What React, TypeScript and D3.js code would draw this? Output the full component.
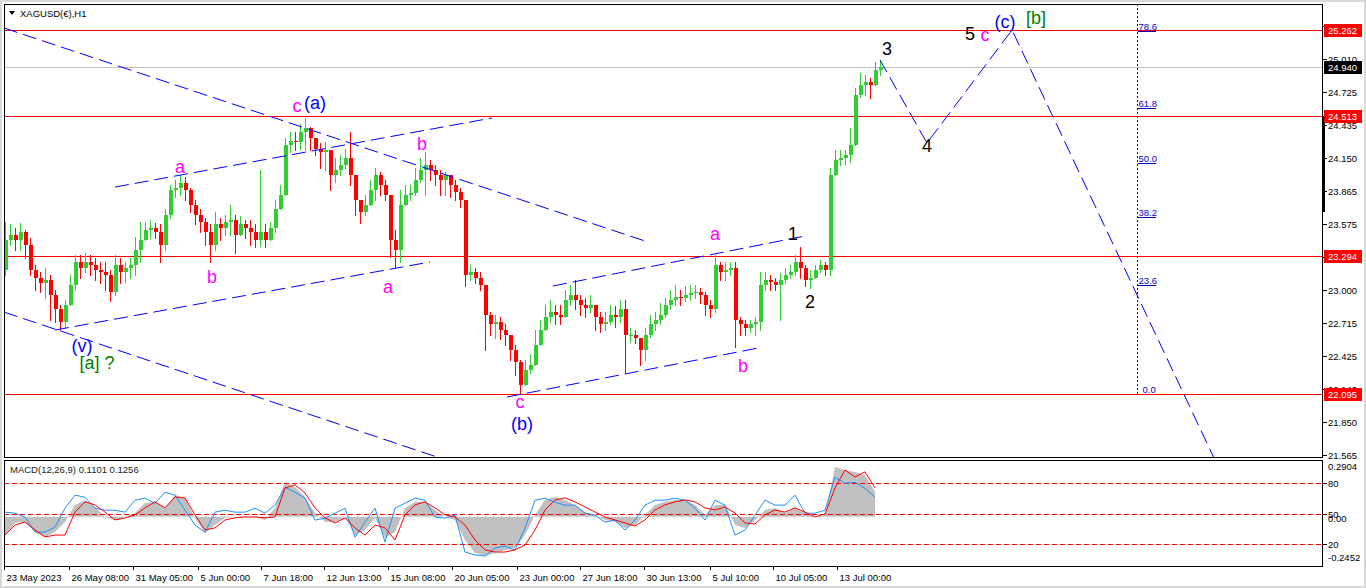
import React from "react";
import * as d3 from "d3";

// ---------------- data ----------------
const symbolTitle = "XAGUSD(€),H1";
const macdTitle = "MACD(12,26,9) 0.1101 0.1256";
const candleBars = 5; // H1 bars aggregated per drawn candle
const firstOpen = 23.17;

const closes = [
  23.43, 23.48, 23.43, 23.5, 23.39, 23.17, 23.1, 23.06, 23.09, 22.96,
  22.83, 22.72, 22.87, 23.04, 23.24, 23.19, 23.24, 23.22, 23.17, 23.16,
  23.13, 22.98, 23.22, 23.16, 23.19, 23.22, 23.35, 23.43, 23.52, 23.54,
  23.5, 23.39, 23.65, 23.87, 23.89, 23.93, 23.87, 23.74, 23.65, 23.59,
  23.5, 23.39, 23.57, 23.54, 23.59, 23.61, 23.48, 23.57, 23.54, 23.5,
  23.43, 23.5, 23.43, 23.54, 23.7, 23.83, 24.26, 24.3, 24.29, 24.37,
  24.41, 24.32, 24.23, 24.2, 24.22, 24.0, 24.04, 24.09, 24.15, 24.0,
  23.78, 23.68, 23.74, 23.87, 24.0, 23.91, 23.83, 23.43, 23.35, 23.74,
  23.83, 23.84, 23.96, 24.04, 24.09, 24.04, 24.0, 23.96, 24.0, 23.91,
  23.85, 23.78, 23.13, 23.16, 23.1, 23.04, 22.78, 22.7, 22.72, 22.65,
  22.61, 22.48, 22.37, 22.17, 22.3, 22.35, 22.52, 22.65, 22.76, 22.81,
  22.78, 22.76, 22.91, 22.96, 22.91, 22.87, 22.84, 22.87, 22.76, 22.7,
  22.72, 22.78, 22.76, 22.83, 22.61, 22.61, 22.58, 22.48, 22.61, 22.7,
  22.74, 22.78, 22.87, 22.91, 22.94, 22.93, 22.96, 22.97, 22.98, 22.96,
  22.87, 22.83, 23.22, 23.16, 23.17, 23.19, 22.74, 22.7, 22.67, 22.7,
  22.72, 23.04, 23.09, 23.07, 23.04, 23.09, 23.13, 23.16, 23.24, 23.19,
  23.09, 23.1, 23.17, 23.22, 23.17, 24.0, 24.13, 24.15, 24.17, 24.26,
  24.7, 24.78, 24.81, 24.78, 24.91, 24.94,
];
const highs = [
  23.59, 23.57, 23.54, 23.58, 23.52, 23.45, 23.22, 23.16, 23.19, 23.13,
  23.0, 22.87, 22.91, 23.13, 23.3, 23.3, 23.32, 23.3, 23.28, 23.24,
  23.24, 23.17, 23.3, 23.28, 23.24, 23.28, 23.46, 23.59, 23.59, 23.61,
  23.58, 23.57, 23.7, 23.91, 23.96, 24.0, 23.98, 23.89, 23.78, 23.7,
  23.63, 23.57, 23.68, 23.63, 23.65, 23.74, 23.65, 23.64, 23.61, 23.61,
  23.57, 24.04, 23.57, 23.59, 23.78, 23.91, 24.32, 24.37, 24.37, 24.44,
  24.5, 24.42, 24.32, 24.28, 24.29, 24.17, 24.15, 24.17, 24.23, 24.37,
  23.96, 23.78, 23.83, 23.96, 24.06, 24.03, 23.96, 23.57, 23.52, 23.87,
  23.91, 23.91, 24.06, 24.15, 24.2, 24.13, 24.09, 24.04, 24.03, 24.0,
  23.96, 23.89, 23.74, 23.22, 23.19, 23.16, 23.0, 22.81, 22.78, 22.76,
  22.7, 22.61, 22.52, 22.39, 22.39, 22.44, 22.65, 22.74, 22.87, 22.91,
  22.87, 22.87, 23.0, 23.04, 23.09, 22.96, 22.93, 22.96, 22.87, 22.81,
  22.81, 22.87, 22.86, 22.91, 22.91, 22.67, 22.65, 22.57, 22.67, 22.78,
  22.81, 22.89, 22.93, 23.0, 23.04, 23.0, 23.03, 23.04, 23.04, 23.02,
  22.98, 22.91, 23.3, 23.24, 23.24, 23.24, 23.24, 22.76, 22.74, 22.74,
  22.76, 23.16, 23.16, 23.13, 23.1, 23.15, 23.19, 23.22, 23.3, 23.37,
  23.22, 23.17, 23.22, 23.26, 23.24, 24.06, 24.22, 24.22, 24.22, 24.41,
  24.76, 24.89, 24.87, 24.84, 24.98, 25.0,
];
const lows = [
  23.13, 23.39, 23.35, 23.35, 23.28, 23.13, 23.0, 22.98, 22.93, 22.74,
  22.72, 22.65, 22.67, 22.87, 23.0, 23.1, 23.16, 23.13, 23.09, 23.06,
  23.0, 22.9, 22.96, 23.06, 23.07, 23.1, 23.13, 23.24, 23.43, 23.45,
  23.45, 23.24, 23.35, 23.63, 23.81, 23.83, 23.78, 23.68, 23.57, 23.5,
  23.39, 23.24, 23.35, 23.43, 23.48, 23.48, 23.32, 23.48, 23.45, 23.39,
  23.37, 23.38, 23.37, 23.45, 23.5, 23.7, 23.83, 24.2, 24.22, 24.23,
  24.22, 24.22, 24.17, 24.06, 24.04, 23.87, 23.94, 24.0, 24.06, 23.91,
  23.65, 23.58, 23.65, 23.74, 23.78, 23.83, 23.78, 23.29, 23.2, 23.24,
  23.74, 23.78, 23.83, 23.94, 23.83, 23.96, 23.91, 23.83, 23.83, 23.81,
  23.78, 23.72, 23.03, 23.09, 23.06, 23.0, 22.48, 22.61, 22.58, 22.57,
  22.52, 22.39, 22.26, 22.1, 22.22, 22.28, 22.37, 22.52, 22.65, 22.72,
  22.7, 22.7, 22.76, 22.87, 22.83, 22.78, 22.76, 22.81, 22.65, 22.63,
  22.65, 22.7, 22.68, 22.72, 22.28, 22.55, 22.54, 22.35, 22.39, 22.59,
  22.65, 22.7, 22.76, 22.83, 22.87, 22.87, 22.9, 22.91, 22.93, 22.89,
  22.78, 22.76, 22.81, 23.09, 23.09, 23.13, 22.5, 22.61, 22.61, 22.63,
  22.61, 22.65, 23.0, 23.0, 23.0, 22.74, 23.06, 23.1, 23.13, 23.1,
  23.03, 23.02, 23.1, 23.16, 23.13, 23.13, 24.04, 24.09, 24.1, 24.11,
  24.3, 24.68, 24.7, 24.67, 24.81, 24.87,
];

const timeLabels = [
  "23 May 2023", "26 May 08:00", "31 May 05:00", "5 Jun 00:00", "7 Jun 18:00",
  "12 Jun 13:00", "15 Jun 08:00", "20 Jun 05:00", "23 Jun 00:00", "27 Jun 18:00",
  "30 Jun 13:00", "5 Jul 10:00", "10 Jul 05:00", "13 Jul 00:00",
];
const timeLabelBars = [0, 65, 129, 194, 257, 320, 384, 448, 513, 576, 640, 706, 769, 833];

const priceTicks = [25.3, 25.01, 24.725, 24.435, 24.15, 23.865, 23.575, 23.29, 23.0, 22.715, 22.425, 22.14, 21.85, 21.565];
const keyLevels = [25.262, 24.513, 23.294, 22.095];
const lastPrice = 24.94;

const fibLevels = [0, 23.6, 38.2, 50.0, 61.8, 78.6];
const fibZero = 22.095;
const fibHundred = 26.115;
const fibBar = 1133;

// dashed trend / channel lines: [bar1, price1, bar2, price2]
const channelLines = [
  [0, 25.279, 644, 23.417],
  [0, 22.807, 436, 21.537],
  [111, 23.895, 488, 24.496],
  [51, 22.651, 426, 23.243],
  [549, 23.034, 801, 23.469],
  [503, 22.068, 754, 22.494],
];
// projected wave path
const projBars = [876, 923, 1008, 1210];
const projPrices = [25.001, 24.278, 25.262, 21.537];

const waveLabels = [
  { t: "c", bar: 293, p: 24.548, c: "#ff00ff" },
  { t: "(a)", bar: 311, p: 24.574, c: "#0000ff" },
  { t: "a", bar: 176, p: 24.017, c: "#ff00ff" },
  { t: "b", bar: 208, p: 23.06, c: "#ff00ff" },
  { t: "b", bar: 418, p: 24.217, c: "#ff00ff" },
  { t: "a", bar: 384, p: 22.973, c: "#ff00ff" },
  { t: "(v)", bar: 78, p: 22.459, c: "#0000ff" },
  { t: "[a] ?", bar: 93, p: 22.311, c: "#008000" },
  { t: "c", bar: 516, p: 21.972, c: "#ff00ff" },
  { t: "(b)", bar: 518, p: 21.78, c: "#0000ff" },
  { t: "a", bar: 711, p: 23.434, c: "#ff00ff" },
  { t: "b", bar: 739, p: 22.285, c: "#ff00ff" },
  { t: "1", bar: 789, p: 23.434, c: "#000000" },
  { t: "2", bar: 806, p: 22.842, c: "#000000" },
  { t: "3", bar: 883, p: 25.044, c: "#000000" },
  { t: "4", bar: 923, p: 24.2, c: "#000000" },
  { t: "5", bar: 966, p: 25.175, c: "#000000" },
  { t: "c", bar: 981, p: 25.166, c: "#ff00ff" },
  { t: "(c)", bar: 1001, p: 25.279, c: "#0000ff" },
  { t: "[b]", bar: 1032, p: 25.314, c: "#008000" },
];

const macdStep = 10;
const macdMain = [
  -0.097, -0.033, -0.028, -0.081, -0.107, -0.081, -0.028, 0.063, 0.089, 0.052,
  -0.001, -0.017, -0.001, 0.02, 0.073, 0.079, 0.047, 0.116, 0.1, -0.006,
  -0.086, -0.044, -0.006, -0.001, -0.001, -0.001, -0.017, 0.047, 0.185, 0.158,
  0.105, 0.02, -0.028, -0.028, -0.001, -0.097, -0.07, -0.006, -0.112, -0.081,
  0.047, 0.079, 0.079, 0.036, -0.001, -0.017, -0.123, -0.192, -0.208, -0.192,
  -0.176, -0.166, -0.097, 0.01, 0.089, 0.105, 0.089, 0.063, 0.025, 0.01,
  -0.017, -0.028, -0.059, -0.044, 0.01, 0.063, 0.079, 0.089, 0.089, 0.063,
  0.01, 0.063, 0.063, -0.044, -0.059, -0.017, 0.036, 0.047, 0.02, 0.047,
  0.02, -0.001, 0.01, 0.264, 0.248, 0.238, 0.222, 0.132,
];
const macdSignal = [
  -0.097, -0.044, -0.028, -0.07, -0.107, -0.097, -0.097, 0.025, 0.079, 0.063,
  0.025, -0.017, -0.006, 0.01, 0.047, 0.079, 0.047, 0.105, 0.1, 0.01,
  -0.07, -0.059, -0.017, -0.006, -0.001, -0.001, -0.006, -0.001, 0.153, 0.169,
  0.126, 0.047, -0.006, -0.033, -0.006, -0.059, -0.097, -0.044, -0.059, -0.123,
  0.01, 0.063, 0.079, 0.047, 0.01, -0.001, -0.044, -0.123, -0.176, -0.187,
  -0.187, -0.176, -0.15, -0.07, 0.036, 0.089, 0.1, 0.079, 0.052, 0.025,
  -0.001, -0.017, -0.033, -0.049, -0.017, 0.036, 0.063, 0.079, 0.089, 0.079,
  0.047, 0.036, 0.052, 0.02, -0.033, -0.038, 0.01, 0.036, 0.025, 0.047,
  0.025, -0.001, 0.015, 0.153, 0.248, 0.211, 0.238, 0.153,
];
const oscValues = [
  51.3, 50.3, 46.5, 31.9, 31.9, 36.8, 55.2, 67.8, 65.8, 55.2,
  53.2, 53.2, 51.3, 62.9, 64.9, 60.0, 70.7, 67.8, 53.2, 38.7,
  31.9, 51.3, 53.2, 51.3, 51.3, 55.2, 50.3, 58.1, 75.5, 70.7,
  64.9, 43.6, 45.5, 50.3, 55.2, 27.1, 41.6, 55.2, 22.3, 55.2,
  60.0, 64.9, 62.9, 46.5, 45.5, 48.4, 12.6, 9.7, 8.7, 16.5,
  18.4, 14.5, 35.8, 62.9, 64.9, 61.0, 58.1, 58.1, 50.3, 48.4,
  41.6, 43.6, 33.9, 43.6, 58.1, 62.9, 62.9, 64.9, 62.9, 55.2,
  43.6, 62.9, 58.1, 29.0, 33.9, 48.4, 62.9, 58.1, 58.1, 67.8,
  50.3, 50.3, 53.2, 85.2, 79.4, 80.3, 74.5, 65.8,
];
const oscLevels = [80, 50, 20];
const macdAxisTop = "0.2904";
const macdAxisBottom = "-0.2452";

// ---------------- layout ----------------
const W = 1366;
const H = 588;
const PL = 4;
const PR = 1323;
const MT = 4;
const MB = 457;
const IT = 460;
const IB = 566;
const FONT = "'Liberation Sans', Arial, sans-serif";

export default function App() {
  const x = d3.scaleLinear().domain([0, PR - PL]).range([PL, PR]);
  const yP = d3.scaleLinear().domain([21.546, 25.488]).range([MB, MT]);
  const yM = d3.scaleLinear().domain([-0.2452, 0.2904]).range([563, 462]);
  const yO = d3.scaleLinear().domain([0, 100]).range([565, 462]);

  const candles = closes.map((c, k) => {
    const o = k === 0 ? firstOpen : closes[k - 1];
    const bar = k * candleBars + 1;
    const hi = Math.max(highs[k], o, c);
    const lo = Math.min(lows[k], o, c);
    return { o, c, hi, lo, bar };
  });

  const macdBar = (j: number) => 1 + j * macdStep;
  const histArea = d3
    .area<number>()
    .x((_, j) => x(macdBar(j)))
    .y0(yM(0))
    .y1((d) => yM(d));
  const sigLine = d3
    .line<number>()
    .x((_, j) => x(macdBar(j)))
    .y((d) => yM(d));
  const oscLine = d3
    .line<number>()
    .x((_, j) => x(macdBar(j)))
    .y((d) => yO(d));
  const projLine = d3
    .line<number>()
    .x((b) => x(b))
    .y((_, i) => yP(projPrices[i]));

  const fibY = (lv: number) => yP(fibZero + ((fibHundred - fibZero) * lv) / 100);
  const fx = Math.round(x(fibBar)) + 0.5;

  return (
    <svg
      width={W}
      height={H}
      style={{ position: "absolute", left: 0, top: 0, background: "#fff" }}
      fontFamily={FONT}
    >
      <defs>
        <clipPath id="mainClip">
          <rect x={PL} y={MT} width={PR - PL} height={MB - MT} />
        </clipPath>
        <clipPath id="indClip">
          <rect x={PL} y={IT} width={PR - PL} height={IB - IT} />
        </clipPath>
      </defs>
      {/* window frame */}
      <rect x={0} y={0} width={W} height={H} fill="#fff" />
      <rect x={0.5} y={0.5} width={W - 1} height={H - 1} fill="none" stroke="#d8d8d8" strokeWidth={3} />

      {/* ---------- main panel ---------- */}
      <g clipPath="url(#mainClip)" shapeRendering="crispEdges">
        {/* key horizontal levels */}
        {keyLevels.map((lv) => (
          <line key={lv} x1={PL} x2={PR} y1={Math.round(yP(lv)) + 0.5} y2={Math.round(yP(lv)) + 0.5} stroke="#ff0000" strokeWidth={1} />
        ))}
        <line x1={PL} x2={PR} y1={Math.round(yP(lastPrice)) + 0.5} y2={Math.round(yP(lastPrice)) + 0.5} stroke="#c0c0c0" />

        {/* candles */}
        {candles.map((d, k) => {
          const col = d.c >= d.o ? "#32cd32" : "#ff0000";
          const cx = Math.round(x(d.bar));
          const yTop = Math.round(yP(Math.max(d.o, d.c)));
          const yBot = Math.round(yP(Math.min(d.o, d.c)));
          return (
            <g key={k}>
              <line x1={cx + 0.5} x2={cx + 0.5} y1={Math.round(yP(d.hi))} y2={Math.round(yP(d.lo)) + 1} stroke={col} />
              <rect x={cx - 1} y={yTop} width={4} height={Math.max(1, yBot - yTop)} fill={col} />
            </g>
          );
        })}

        {/* channel lines */}
        {channelLines.map((l, i) => (
          <line
            key={i}
            x1={x(l[0])}
            y1={yP(l[1])}
            x2={x(l[2])}
            y2={yP(l[3])}
            stroke="#0000ff"
            strokeWidth={1}
            strokeDasharray="14,6"
            shapeRendering="auto"
          />
        ))}
        <path d={projLine(projBars) || ""} fill="none" stroke="#0000ff" strokeDasharray="14,6" shapeRendering="auto" />

        {/* fibonacci */}
        <line x1={fx} x2={fx} y1={MT} y2={yP(fibZero)} stroke="#0000ff" strokeDasharray="2,2" />
        {fibLevels.map((lv) => {
          const yy = Math.round(fibY(lv)) + 0.5;
          return (
            <g key={lv}>
              {lv > 0 && <line x1={fx} x2={fx + 18} y1={yy} y2={yy} stroke="#0000cd" />}
              <text x={fx + (lv === 0 ? 5 : 1)} y={yy - 2} fontSize={9.5} fill="#0000cd">
                {lv.toFixed(1)}
              </text>
            </g>
          );
        })}
      </g>

      {/* wave labels */}
      {waveLabels.map((w, i) => (
        <text key={i} x={x(w.bar)} y={yP(w.p)} textAnchor="middle" fontSize={18} fill={w.c}>
          {w.t}
        </text>
      ))}

      {/* title */}
      <path d="M9,11 L15,11 L12,15 Z" fill="#000" />
      <text x={20} y={17} fontSize={9.5} fill="#000">
        {symbolTitle}
      </text>

      {/* panel borders */}
      <rect x={PL + 0.5} y={MT + 0.5} width={PR - PL - 1} height={MB - MT} fill="none" stroke="#000" shapeRendering="crispEdges" />

      {/* ---------- indicator panel ---------- */}
      <g clipPath="url(#indClip)">
        <path d={histArea(macdMain) || ""} fill="#c0c0c0" />
        {oscLevels.map((lv) => (
          <line key={lv} x1={PL} x2={PR} y1={Math.round(yO(lv)) + 0.5} y2={Math.round(yO(lv)) + 0.5} stroke="#ff0000" strokeDasharray="5,3" shapeRendering="crispEdges" />
        ))}
        <path d={oscLine(oscValues) || ""} fill="none" stroke="#1e90ff" strokeWidth={1} />
        <path d={sigLine(macdSignal) || ""} fill="none" stroke="#ff0000" strokeWidth={1} />
      </g>
      <text x={10} y={473} fontSize={9.5} fill="#222">
        {macdTitle}
      </text>
      <rect x={PL + 0.5} y={IT + 0.5} width={PR - PL - 1} height={IB - IT} fill="none" stroke="#000" shapeRendering="crispEdges" />

      {/* ---------- right price axis ---------- */}
      <g fontSize={9.5} fill="#000" shapeRendering="crispEdges">
        {priceTicks.map((t) => {
          const yy = Math.round(yP(t)) + 0.5;
          return (
            <g key={t}>
              <line x1={PR} x2={PR + 4} y1={yy} y2={yy} stroke="#000" />
              <text x={PR + 5} y={yy + 3.5}>
                {t.toFixed(3)}
              </text>
            </g>
          );
        })}
        <rect x={PR} y={Math.round(yP(24.513))} width={2} height={Math.round(yP(23.68) - yP(24.513))} fill="#000" />
        {keyLevels.map((lv) => {
          const yy = Math.round(yP(lv));
          return (
            <g key={lv}>
              <rect x={PR + 1} y={yy - 6} width={38} height={13} fill="#ff0000" />
              <text x={PR + 5} y={yy + 4} fill="#fff">
                {lv.toFixed(3)}
              </text>
            </g>
          );
        })}
        <rect x={PR + 1} y={Math.round(yP(lastPrice)) - 6} width={38} height={13} fill="#000" />
        <text x={PR + 5} y={Math.round(yP(lastPrice)) + 4} fill="#fff">
          {lastPrice.toFixed(3)}
        </text>

        {/* indicator axis */}
        <text x={PR + 5} y={yM(0.2904) + 8}>{macdAxisTop}</text>
        {oscLevels.map((lv) => (
          <g key={lv}>
            <line x1={PR} x2={PR + 4} y1={Math.round(yO(lv)) + 0.5} y2={Math.round(yO(lv)) + 0.5} stroke="#000" />
            <text x={PR + 5} y={yO(lv) + 4}>
              {lv}
            </text>
          </g>
        ))}
        <text x={PR + 5} y={yM(0) + 5}>0.00</text>
        <text x={PR + 5} y={yM(-0.2452) - 2}>{macdAxisBottom}</text>
      </g>

      {/* ---------- time axis ---------- */}
      <g fontSize={9.5} fill="#000" shapeRendering="crispEdges">
        {timeLabels.map((t, i) => {
          const xx = Math.round(x(timeLabelBars[i])) + 0.5;
          return (
            <g key={t}>
              <line x1={xx} x2={xx} y1={IB} y2={IB + 4} stroke="#000" />
              <text x={xx + 2} y={581}>
                {t}
              </text>
            </g>
          );
        })}
      </g>
    </svg>
  );
}
